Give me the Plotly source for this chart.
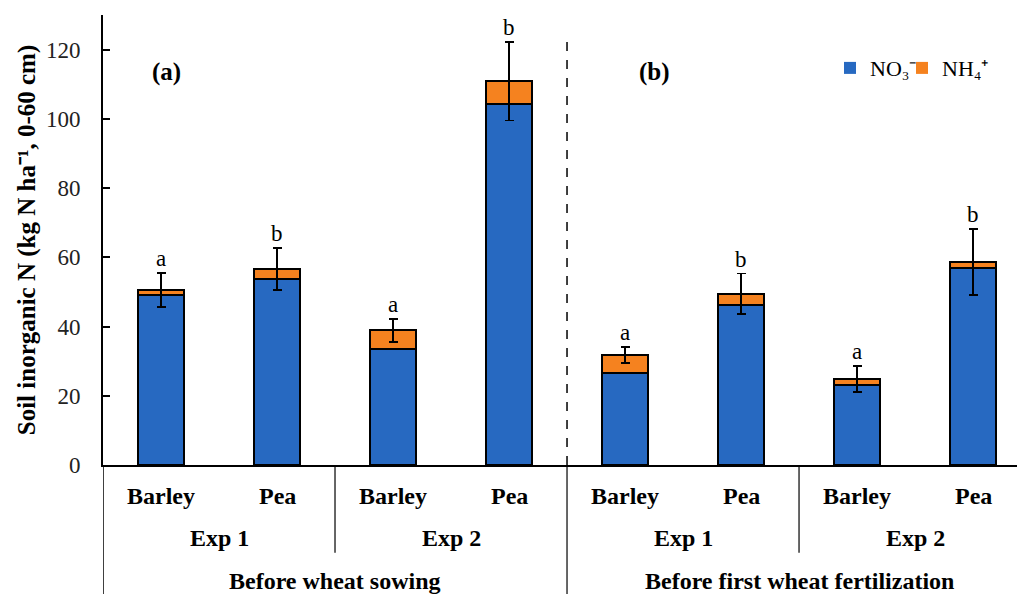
import plotly.graph_objects as go

# Soil inorganic N (kg N ha-1, 0-60 cm) by preceding crop, experiment and sampling time
crops = ["Barley", "Pea", "Barley", "Pea", "Barley", "Pea", "Barley", "Pea"]
experiments = ["Exp 1", "Exp 2", "Exp 1", "Exp 2"]
timings = ["Before wheat sowing", "Before first wheat fertilization"]
no3 = [49.0, 53.6, 33.6, 104.3, 26.7, 46.3, 23.1, 56.9]
nh4 = [1.5, 3.1, 5.3, 6.5, 5.0, 3.2, 1.7, 1.7]
err = [4.9, 6.1, 3.3, 11.3, 2.3, 5.8, 3.8, 9.5]
letters = ["a", "b", "a", "b", "a", "b", "a", "b"]

BLUE = "#2769c1"
ORANGE = "#f5821f"
SERIF = "Liberation Serif, Times New Roman, serif"

xpos = list(range(len(crops)))
totals = [a + b for a, b in zip(no3, nh4)]

fig = go.Figure()
fig.add_trace(go.Bar(
    x=xpos, y=no3, name="NO₃⁻", width=0.4, showlegend=False,
    marker=dict(color=BLUE, line=dict(color="black", width=2)),
))
fig.add_trace(go.Bar(
    x=xpos, y=nh4, name="NH₄⁺", width=0.4, showlegend=False,
    marker=dict(color=ORANGE, line=dict(color="black", width=2)),
    error_y=dict(type="data", array=err, symmetric=True,
                 color="black", thickness=1.8, width=4.5),
))

# legend entries (plain squares, no outline), one per legend box
fig.add_trace(go.Scatter(x=[None], y=[None], mode="markers", name="NO₃⁻", legend="legend",
                         marker=dict(symbol="square", size=12, color=BLUE)))
fig.add_trace(go.Scatter(x=[None], y=[None], mode="markers", name="NH₄⁺", legend="legend2",
                         marker=dict(symbol="square", size=12, color=ORANGE)))

annotations = []
# significance letters above the error bars
for x, t, e, s in zip(xpos, totals, err, letters):
    annotations.append(dict(x=x, y=t + e, xref="x", yref="y", text=s,
                            showarrow=False, yanchor="bottom", yshift=0,
                            font=dict(family=SERIF, size=23, color="black")))

# panel labels
annotations.append(dict(x=0.05, y=113.5, xref="x", yref="y", text="<b>(a)</b>",
                        showarrow=False, font=dict(family=SERIF, size=25, color="black")))
annotations.append(dict(x=4.25, y=113.5, xref="x", yref="y", text="<b>(b)</b>",
                        showarrow=False, font=dict(family=SERIF, size=25, color="black")))

# three-level category labels below the axis
for x, c in zip(xpos, crops):
    annotations.append(dict(x=x, y=-0.068, xref="x", yref="paper", text=f"<b>{c}</b>",
                            showarrow=False, yanchor="middle",
                            font=dict(family=SERIF, size=24, color="black")))
for i, e in enumerate(experiments):
    annotations.append(dict(x=2 * i + 0.5, y=-0.162, xref="x", yref="paper", text=f"<b>{e}</b>",
                            showarrow=False, yanchor="middle",
                            font=dict(family=SERIF, size=24, color="black")))
for i, t in enumerate(timings):
    annotations.append(dict(x=4 * i + 1.5, y=-0.258, xref="x", yref="paper", text=f"<b>{t}</b>",
                            showarrow=False, yanchor="middle",
                            font=dict(family=SERIF, size=24, color="black")))

shapes = [
    # dashed divider between the two sampling times
    dict(type="line", xref="x", yref="y", x0=3.5, x1=3.5, y0=0, y1=124.5,
         line=dict(color="black", width=1.5, dash="dash")),
    # separators in the category area
    dict(type="line", xref="x", yref="paper", x0=3.5, x1=3.5, y0=0, y1=-0.3,
         line=dict(color="black", width=1.2)),
    dict(type="line", xref="x", yref="paper", x0=1.5, x1=1.5, y0=0, y1=-0.195,
         line=dict(color="black", width=1.2)),
    dict(type="line", xref="x", yref="paper", x0=5.5, x1=5.5, y0=0, y1=-0.195,
         line=dict(color="black", width=1.2)),
    dict(type="line", xref="x", yref="paper", x0=-0.5, x1=-0.5, y0=0, y1=-0.3,
         line=dict(color="black", width=1.5)),
]

legend_style = dict(orientation="h", yanchor="middle", xanchor="left", y=0.882,
                    font=dict(family=SERIF, size=22, color="black"),
                    itemwidth=30, bgcolor="rgba(0,0,0,0)")

fig.update_layout(
    width=1017, height=594,
    margin=dict(l=103, r=0, t=15, b=129, autoexpand=False),
    paper_bgcolor="white", plot_bgcolor="white",
    barmode="stack", bargap=0.6,
    font=dict(family=SERIF, color="black"),
    annotations=annotations, shapes=shapes,
    showlegend=True,
    legend=dict(x=0.7954, **legend_style),
    legend2=dict(x=0.8742, **legend_style),
)
fig.update_xaxes(range=[-0.5, 7.379], showticklabels=False, ticks="",
                 showline=True, linecolor="black", linewidth=1.8,
                 showgrid=False, zeroline=False, fixedrange=True)
fig.update_yaxes(range=[0, 130], tickvals=[0, 20, 40, 60, 80, 100, 120],
                 ticks="inside", ticklen=7, tickwidth=1.5, tickcolor="black",
                 showline=True, linecolor="black", linewidth=1.8,
                 showgrid=False, zeroline=False, ticklabelstandoff=16,
                 tickfont=dict(family=SERIF, size=23, color="#222"),
                 title=dict(text="<b>Soil inorganic N (kg N ha⁻¹, 0-60 cm)</b>",
                            font=dict(family=SERIF, size=25, color="black"), standoff=3))

fig.write_html("out.html")
